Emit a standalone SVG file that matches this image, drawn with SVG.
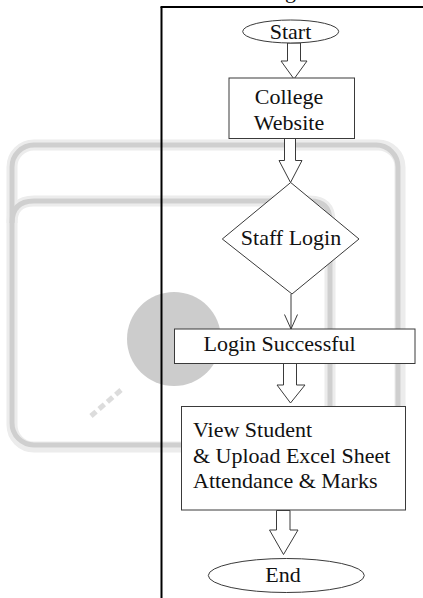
<svg xmlns="http://www.w3.org/2000/svg" width="423" height="598" viewBox="0 0 423 598">
<style>
  .shape { fill: #ffffff; stroke: #3a3a3a; stroke-width: 1; }
  .arrow { fill: #ffffff; stroke: #3a3a3a; stroke-width: 1; stroke-linejoin: miter; }
  .line { fill: none; stroke: #3a3a3a; stroke-width: 1; }
  .label { font-family: "Liberation Serif", "Times New Roman", serif; font-size: 22px; fill: #111111; }
  .mid { text-anchor: middle; }
  .wm-halo { fill: none; stroke: #ececec; stroke-width: 11; }
  .wm { fill: none; stroke: #cfcfcf; stroke-width: 5; }
</style>
<rect width="423" height="598" fill="#ffffff"/>
<g id="watermark">
  <rect class="wm-halo" x="12" y="145" width="388" height="302" rx="22"/>
  <path class="wm-halo" d="M12 223 Q12 201 34 201 L310 201 Q330 201 330 221 L330 447"/>
  <rect class="wm" x="12" y="145" width="386" height="300" rx="22"/>
  <path class="wm" d="M12 223 Q12 201 34 201 L310 201 Q330 201 330 221 L330 445"/>
  <circle cx="174" cy="339" r="47" fill="#cccccc"/>
  <line x1="121" y1="390" x2="91" y2="416" stroke="#dcdcdc" stroke-width="5" stroke-dasharray="7 4"/>
</g>
<g id="frame">
  <line x1="161.5" y1="7" x2="161.5" y2="598" stroke="#000000" stroke-width="2"/>
  <line x1="160.5" y1="7" x2="423" y2="7" stroke="#000000" stroke-width="2"/>
  <text class="label" x="285" y="-2">g</text>
</g>
<g id="connectors">
  <polygon class="arrow" points="287.5,43 300.5,43 300.5,61 307,61 294,79 281,61 287.5,61"/>
  <polygon class="arrow" points="284.5,138.5 295.5,138.5 295.5,160.5 302,160.5 290.5,182.5 279,160.5 284.5,160.5"/>
  <line class="line" x1="291" y1="294" x2="291" y2="329"/>
  <polyline class="line" points="284.5,314.5 291,329 297.5,314.5"/>
  <polygon class="arrow" points="283.5,363.5 296.5,363.5 296.5,385 305,385 290.5,403 277,385 283.5,385"/>
  <polygon class="arrow" points="276.5,510.5 290,510.5 290,530 298,530 283.5,554.5 269.5,530 276.5,530"/>
</g>
<g id="start">
  <ellipse class="shape" cx="290.7" cy="31.5" rx="48" ry="11.5"/>
  <text class="label mid" x="290.5" y="38.5">Start</text>
</g>
<g id="college-website">
  <rect class="shape" x="229" y="78" width="125.5" height="60.5"/>
  <text class="label mid" x="289" y="104">College</text>
  <text class="label mid" x="289" y="130">Website</text>
</g>
<g id="staff-login">
  <polygon class="shape" points="290.7,182.5 359,239 292,294 222.3,239"/>
  <text class="label mid" x="291" y="245">Staff Login</text>
</g>
<g id="login-successful">
  <rect class="shape" x="174.5" y="329" width="240.5" height="34.5"/>
  <text class="label" x="203.5" y="351">Login Successful</text>
</g>
<g id="view-student">
  <rect class="shape" x="181.5" y="406.5" width="224" height="103.5"/>
  <text class="label" x="193" y="436.5">View Student</text>
  <text class="label" x="193" y="462.5">&amp; Upload Excel Sheet</text>
  <text class="label" x="193" y="487.5">Attendance &amp; Marks</text>
</g>
<g id="end">
  <ellipse class="shape" cx="286.3" cy="575.5" rx="78" ry="17"/>
  <text class="label mid" x="283" y="581.5">End</text>
</g>
</svg>
